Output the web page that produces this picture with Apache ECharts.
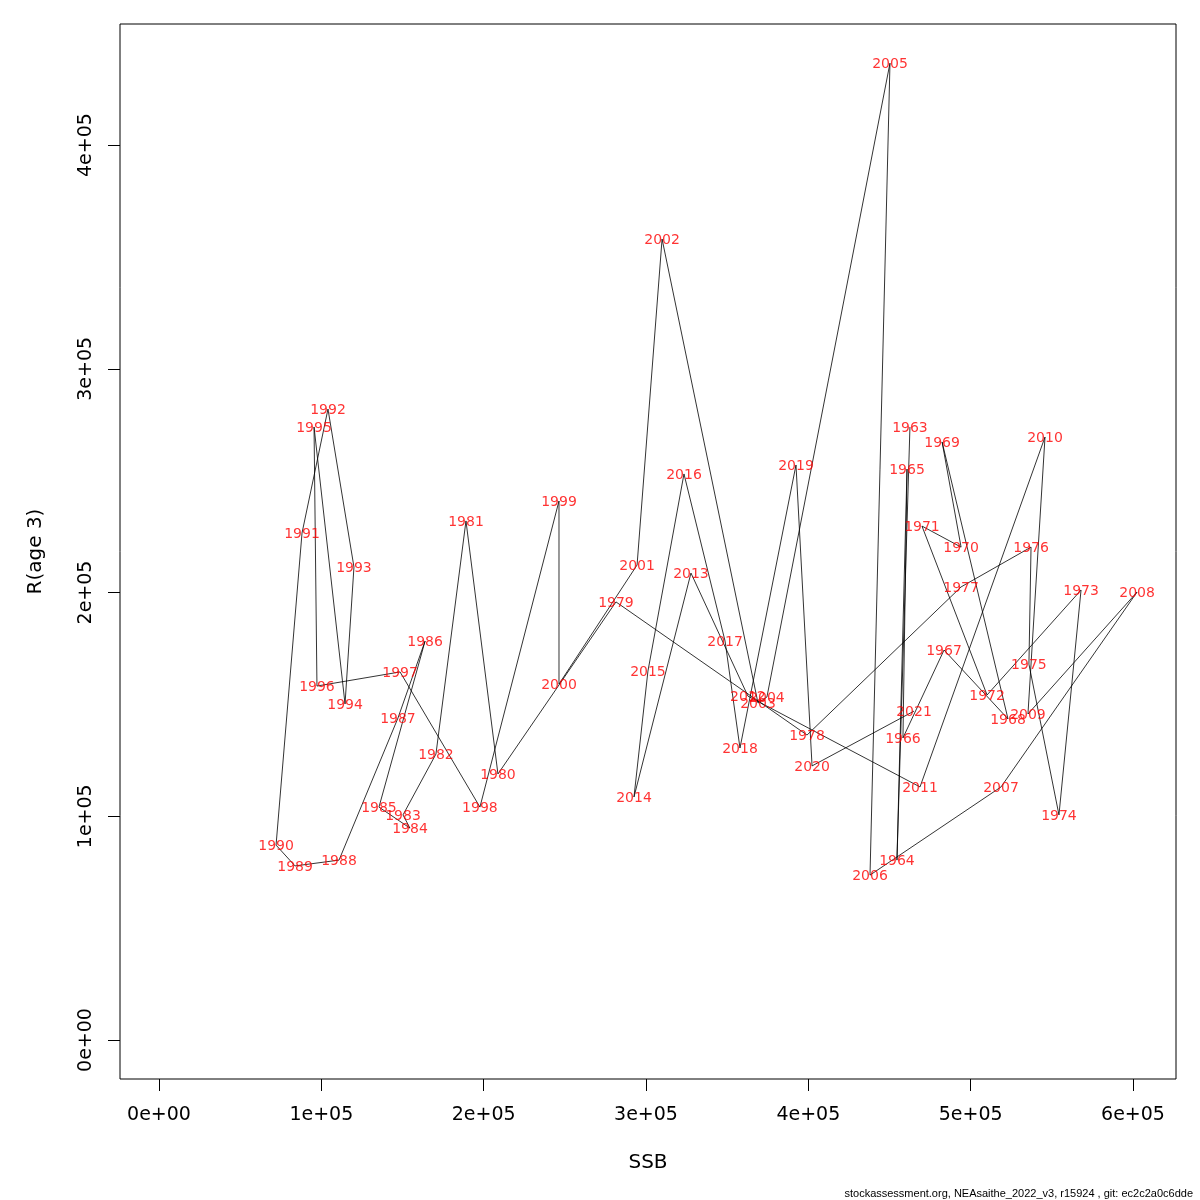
<!DOCTYPE html>
<html>
<head>
<meta charset="utf-8">
<script src="https://cdn.jsdelivr.net/npm/echarts@6/dist/echarts.min.js"></script>
<style>
  html, body { margin: 0; padding: 0; background: #fff; }
  #chart { width: 1200px; height: 1200px; }
</style>
</head>
<body>
<div id="chart"></div>
<script>
// stock-recruitment pairs
var years = [1963, 1964, 1965, 1966, 1967, 1968, 1969, 1970, 1971, 1972,
  1973, 1974, 1975, 1976, 1977, 1978, 1979, 1980, 1981, 1982,
  1983, 1984, 1985, 1986, 1987, 1988, 1989, 1990, 1991, 1992,
  1993, 1994, 1995, 1996, 1997, 1998, 1999, 2000, 2001, 2002,
  2003, 2004, 2005, 2006, 2007, 2008, 2009, 2010, 2011, 2012,
  2013, 2014, 2015, 2016, 2017, 2018, 2019, 2020, 2021];

var ssb = [462600, 454600, 460800, 458300, 483600, 523000, 482400, 494100, 470000, 510100,
  568000, 554400, 535900, 537200, 494100, 399200, 281500, 208800, 189100, 170600,
  150300, 154600, 135500, 163900, 147200, 110900, 83800, 72100, 88100, 104100,
  120100, 114600, 95500, 97300, 148500, 197700, 246400, 246400, 294500, 309900,
  369000, 374500, 450300, 438000, 518700, 602500, 535300, 545800, 468800, 362800,
  327700, 292600, 301200, 323400, 348700, 357900, 392400, 402300, 465100];

var rec = [274000, 80400, 255200, 135000, 174300, 143500, 267300, 220300, 229700, 154200,
  201100, 100600, 168000, 220300, 202500, 136300, 195800, 118900, 232000, 127800,
  100600, 94700, 104100, 178300, 143900, 80400, 77800, 87100, 226600, 282000,
  211400, 150200, 274000, 158200, 164500, 104100, 240900, 159100, 212300, 358000,
  150600, 153300, 436600, 73700, 113100, 200200, 145700, 269500, 113100, 153700,
  208700, 108600, 164900, 253000, 178300, 130500, 257000, 122500, 147000];

var xTicks = [0, 100000, 200000, 300000, 400000, 500000, 600000];
var xTickLabels = ['0e+00', '1e+05', '2e+05', '3e+05', '4e+05', '5e+05', '6e+05'];
var yTicks = [0, 100000, 200000, 300000, 400000];
var yTickLabels = ['0e+00', '1e+05', '2e+05', '3e+05', '4e+05'];

var pts = years.map(function (y, i) { return [ssb[i], rec[i], String(y)]; });

var chart = echarts.init(document.getElementById('chart'));
var font = 'DejaVu Sans';

chart.setOption({
  animation: false,
  backgroundColor: '#fff',
  grid: {
    left: 120, right: 24, top: 24, bottom: 121,
    show: true, borderColor: '#000', borderWidth: 1
  },
  xAxis: {
    type: 'value',
    min: -24030, max: 626500,
    name: 'SSB',
    nameLocation: 'middle',
    nameGap: 74,
    nameTextStyle: { fontFamily: font, fontSize: 20, color: '#000' },
    axisLine: { show: false, onZero: false },
    splitLine: { show: false },
    axisTick: { show: true, length: 12, customValues: xTicks, lineStyle: { color: '#000' } },
    axisLabel: {
      customValues: xTicks,
      margin: 27,
      fontFamily: font, fontSize: 19, color: '#000',
      formatter: function (v) { return xTickLabels[xTicks.indexOf(v)]; }
    }
  },
  yAxis: {
    type: 'value',
    min: -17430, max: 454100,
    name: 'R(age 3)',
    nameLocation: 'middle',
    nameGap: 74,
    nameTextStyle: { fontFamily: font, fontSize: 20, color: '#000' },
    axisLine: { show: false, onZero: false },
    splitLine: { show: false },
    axisTick: { show: true, length: 12, customValues: yTicks, lineStyle: { color: '#000' } },
    axisLabel: {
      customValues: yTicks,
      rotate: 90,
      margin: 24,
      fontFamily: font, fontSize: 19, color: '#000',
      formatter: function (v) { return yTickLabels[yTicks.indexOf(v)]; }
    }
  },
  series: [
    {
      type: 'line',
      data: pts,
      showSymbol: false,
      lineStyle: { color: '#000', width: 0.8 },
      z: 2
    },
    {
      type: 'scatter',
      data: pts,
      symbolSize: 1,
      itemStyle: { color: 'transparent' },
      label: {
        show: true,
        position: 'inside',
        offset: [0, 1],
        formatter: function (p) { return p.value[2]; },
        fontFamily: font, fontSize: 14, color: '#ff0000'
      },
      z: 3
    }
  ],
  graphic: [
    {
      type: 'text',
      right: 7, bottom: 1,
      style: {
        text: 'stockassessment.org, NEAsaithe_2022_v3, r15924 , git: ec2c2a0c6dde',
        font: '11px "Liberation Sans"',
        fill: '#000'
      }
    }
  ]
});
</script>
</body>
</html>
